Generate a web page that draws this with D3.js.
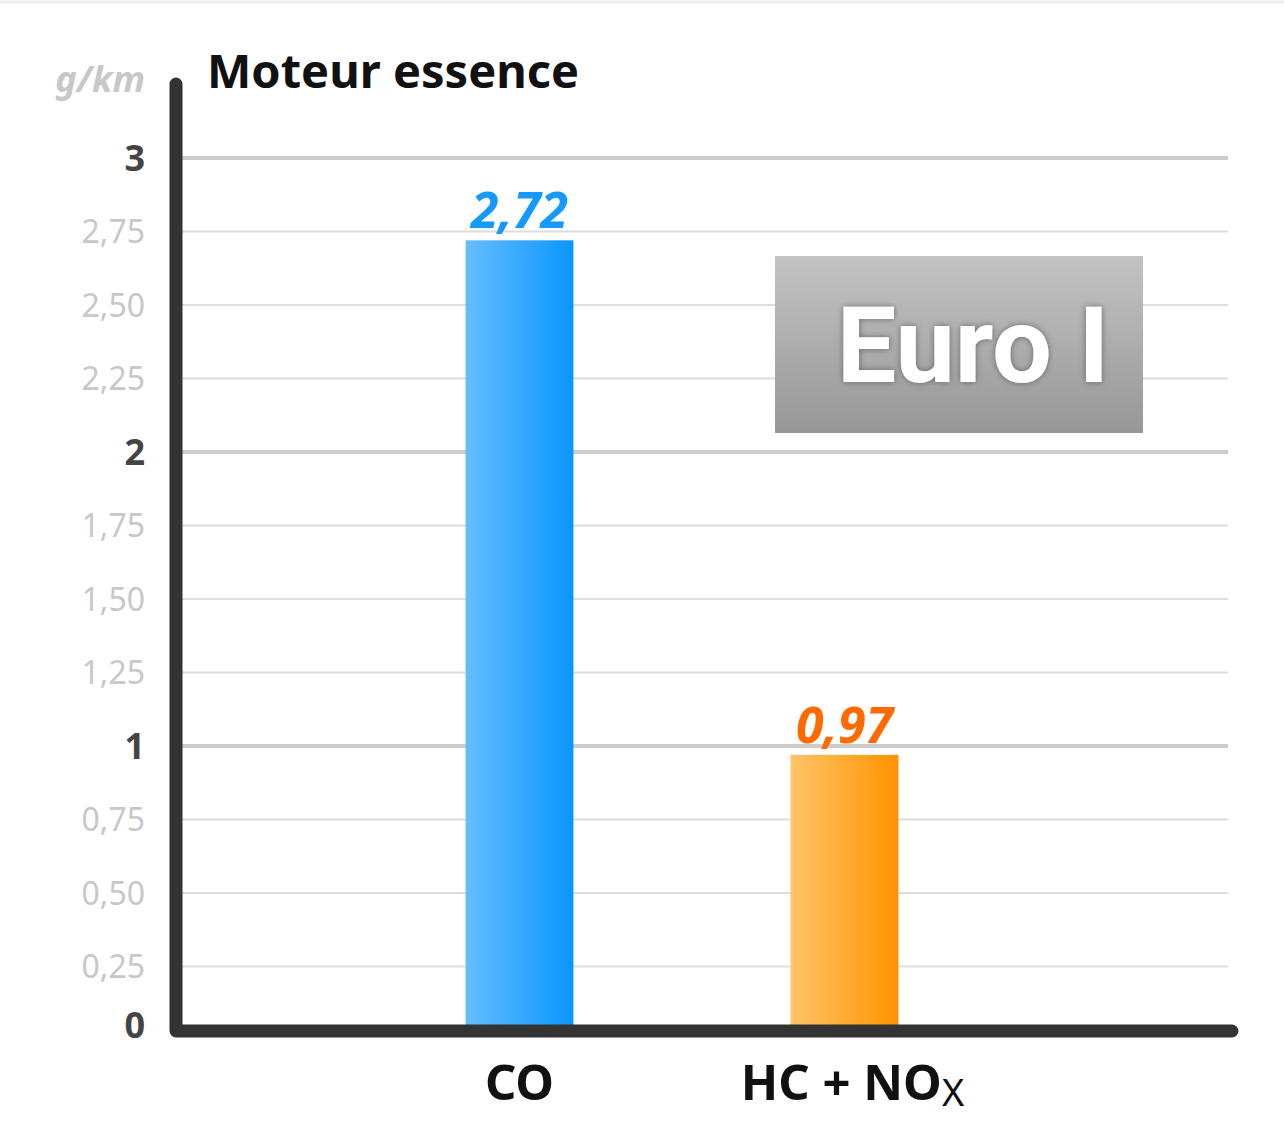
<!doctype html>
<html lang="fr">
<head>
<meta charset="utf-8">
<script src="https://d3js.org/d3.v7.min.js"></script>
<style>
  body { margin: 0; padding: 0; background: #fff; }
  svg text { font-family: "Noto Sans", "Open Sans", sans-serif; }
</style>
</head>
<body>
<div id="chart"></div>
<script>
// data
var categories = ["CO", "HC + NOx"];
var values = [2.72, 0.97];
var valueLabels = ["2,72", "0,97"];
var yTicks = [0, 0.25, 0.5, 0.75, 1, 1.25, 1.5, 1.75, 2, 2.25, 2.5, 2.75, 3];
var yTickLabels = ["0", "0,25", "0,50", "0,75", "1", "1,25", "1,50", "1,75", "2", "2,25", "2,50", "2,75", "3"];

var width = 1284, height = 1130;

var svg = d3.select("#chart").append("svg")
    .attr("width", width)
    .attr("height", height);

var defs = svg.append("defs");

function hGrad(id, c0, c1) {
    var g = defs.append("linearGradient").attr("id", id)
        .attr("x1", "0%").attr("x2", "100%").attr("y1", "0%").attr("y2", "0%");
    g.append("stop").attr("offset", "0%").attr("stop-color", c0);
    g.append("stop").attr("offset", "100%").attr("stop-color", c1);
}
hGrad("gradBlue", "#66bdff", "#0a96ff");
hGrad("gradOrange", "#ffc468", "#ff9300");

var boxGrad = defs.append("linearGradient").attr("id", "gradBox")
    .attr("x1", "0%").attr("x2", "0%").attr("y1", "0%").attr("y2", "100%");
boxGrad.append("stop").attr("offset", "0%").attr("stop-color", "#c3c3c3");
boxGrad.append("stop").attr("offset", "100%").attr("stop-color", "#979797");

var shadow = defs.append("filter").attr("id", "txtShadow")
    .attr("x", "-20%").attr("y", "-20%").attr("width", "140%").attr("height", "140%");
shadow.append("feDropShadow").attr("dx", 0).attr("dy", 0)
    .attr("stdDeviation", 3).attr("flood-color", "#555").attr("flood-opacity", 0.8);

var barColors = ["url(#gradBlue)", "url(#gradOrange)"];
var labelColors = ["#1499ff", "#ff6a00"];

// faint frame line at the top
svg.append("line")
    .attr("x1", 0).attr("x2", width).attr("y1", 2).attr("y2", 2)
    .attr("stroke", "#eeeeee").attr("stroke-width", 3);

// scales
var y = d3.scaleLinear().domain([0, 3]).range([1040, 158]);
var x = d3.scaleBand().domain(categories)
    .range([357, 1007])
    .paddingInner(0.668)
    .paddingOuter(0.334);

var gridLeft = 182, gridRight = 1228, axisX = 176;
var baseY = y(0) - 9;   // the drawn x axis sits a bit above the true zero

// gridlines
svg.append("g").selectAll("line")
    .data(yTicks.filter(function (d) { return d > 0; }))
    .enter().append("line")
    .attr("x1", gridLeft).attr("x2", gridRight)
    .attr("y1", function (d) { return y(d); })
    .attr("y2", function (d) { return y(d); })
    .attr("stroke", function (d) { return d % 1 === 0 ? "#cccccc" : "#dddddd"; })
    .attr("stroke-width", function (d) { return d % 1 === 0 ? 4 : 2; });

// y tick labels
svg.append("g").selectAll("text")
    .data(yTicks)
    .enter().append("text")
    .attr("x", 145)
    .attr("y", function (d) { return y(d); })
    .attr("dy", function (d) { return d === 0 ? "-0.05em" : "0.36em"; })
    .attr("text-anchor", "end")
    .attr("font-size", function (d) { return d % 1 === 0 ? 36 : 32; })
    .attr("font-weight", function (d) { return d % 1 === 0 ? "bold" : "normal"; })
    .attr("fill", function (d) { return d % 1 === 0 ? "#444444" : "#c8c8c8"; })
    .text(function (d, i) { return yTickLabels[i]; });

// bars
svg.append("g").selectAll("rect")
    .data(values)
    .enter().append("rect")
    .attr("x", function (d, i) { return x(categories[i]); })
    .attr("width", x.bandwidth())
    .attr("y", function (d) { return y(d); })
    .attr("height", function (d) { return baseY - y(d); })
    .attr("fill", function (d, i) { return barColors[i]; });

// value labels
svg.append("g").selectAll("text")
    .data(values)
    .enter().append("text")
    .attr("x", function (d, i) { return x(categories[i]) + x.bandwidth() / 2; })
    .attr("y", function (d) { return y(d) - 12; })
    .attr("text-anchor", "middle")
    .attr("font-size", 50)
    .attr("font-weight", "bold")
    .attr("font-style", "italic")
    .attr("fill", function (d, i) { return labelColors[i]; })
    .text(function (d, i) { return valueLabels[i]; });

// axes
svg.append("path")
    .attr("d", "M" + axisX + ",84 V" + baseY + " H1232")
    .attr("fill", "none")
    .attr("stroke", "#333333")
    .attr("stroke-width", 13)
    .attr("stroke-linecap", "round")
    .attr("stroke-linejoin", "round");

// x labels
var xl = svg.append("g").selectAll("text")
    .data(categories)
    .enter().append("text")
    .attr("x", function (d, i) { return x(d) + x.bandwidth() / 2 + (i === 1 ? 8 : 0); })
    .attr("y", 1100)
    .attr("text-anchor", "middle")
    .attr("font-size", 49)
    .attr("font-weight", "bold")
    .attr("fill", "#111111");
xl.each(function (d) {
    var t = d3.select(this);
    if (d === "HC + NOx") {
        t.append("tspan").text("HC + NO");
        t.append("tspan").attr("font-weight", "normal").attr("font-size", 38)
            .attr("dy", 6).text("X");
    } else {
        t.text(d);
    }
});

// unit and title
svg.append("text")
    .attr("x", 145).attr("y", 92)
    .attr("text-anchor", "end")
    .attr("font-size", 36)
    .attr("font-weight", "bold")
    .attr("font-style", "italic")
    .attr("fill", "#c8c8c8")
    .text("g/km");

svg.append("text")
    .attr("x", 207).attr("y", 88)
    .attr("font-size", 47)
    .attr("font-weight", "bold")
    .attr("fill", "#111111")
    .text("Moteur essence");

// Euro I badge
var badge = svg.append("g");
badge.append("rect")
    .attr("x", 775).attr("y", 256)
    .attr("width", 368).attr("height", 177)
    .attr("fill", "url(#gradBox)");
badge.append("text")
    .attr("x", 973).attr("y", 382)
    .attr("text-anchor", "middle")
    .style("font-family", "Roboto, 'Liberation Sans', sans-serif")
    .attr("font-size", 106)
    .attr("font-weight", "bold")
    .attr("fill", "#ffffff")
    .attr("filter", "url(#txtShadow)")
    .text("Euro I");
</script>
</body>
</html>
